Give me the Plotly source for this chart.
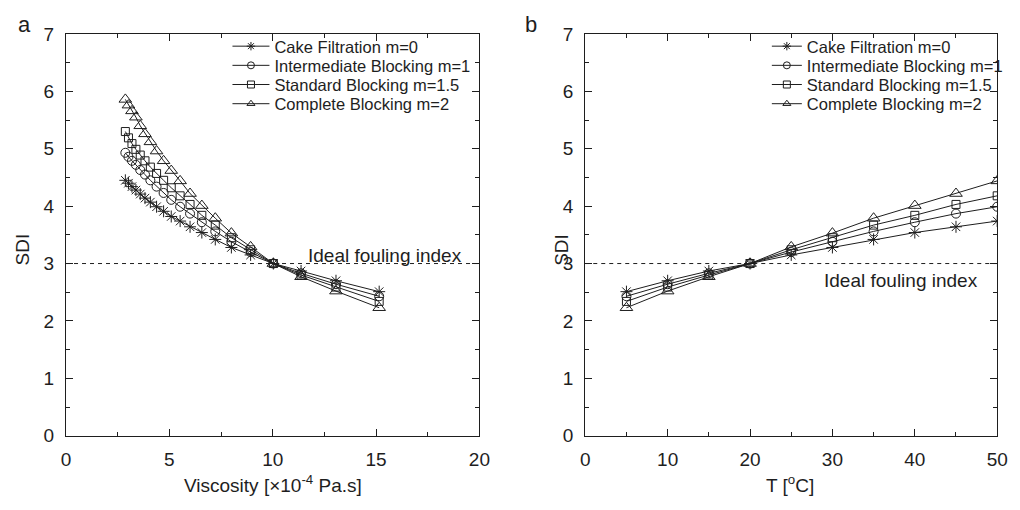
import plotly.graph_objects as go

# ---------------- data ----------------
# temperatures (deg C) and corresponding viscosities (x10^-4 Pa.s)
temps_all = [5, 10, 15, 20, 25, 30, 35, 40, 45, 50, 55, 60, 65, 70, 75, 80, 85, 90, 95, 100]
viscosity = [15.15, 13.06, 11.37, 10.03, 8.93, 8.00, 7.22, 6.57, 6.00, 5.52, 5.09, 4.72,
             4.38, 4.08, 3.82, 3.59, 3.38, 3.19, 3.02, 2.87]

sdi_cake = [2.51, 2.70, 2.87, 3.00, 3.15, 3.28, 3.42, 3.54, 3.64, 3.74, 3.82, 3.91,
            3.99, 4.07, 4.14, 4.21, 4.28, 4.34, 4.40, 4.45]
sdi_inter = [2.43, 2.64, 2.83, 3.00, 3.20, 3.38, 3.56, 3.72, 3.87, 3.99, 4.11, 4.23,
             4.34, 4.45, 4.55, 4.63, 4.72, 4.79, 4.86, 4.93]
sdi_std = [2.34, 2.59, 2.80, 3.00, 3.24, 3.45, 3.67, 3.84, 4.03, 4.18, 4.32, 4.45,
           4.57, 4.68, 4.79, 4.89, 4.99, 5.09, 5.19, 5.30]
sdi_comp = [2.23, 2.52, 2.77, 3.00, 3.29, 3.53, 3.79, 4.01, 4.22, 4.44, 4.62, 4.79,
            4.96, 5.12, 5.26, 5.40, 5.55, 5.66, 5.76, 5.86]

n_right = 10  # right panel shows T = 5..50
series_names = ["Cake Filtration m=0", "Intermediate Blocking m=1",
                "Standard Blocking m=1.5", "Complete Blocking m=2"]
series_values = [sdi_cake, sdi_inter, sdi_std, sdi_comp]
symbols = ["asterisk-open", "circle-open", "square-open", "triangle-up-open"]
sizes = [10, 9, 8, 11]

ideal_sdi = 3
x_range_left = [0, 20]
x_range_right = [0, 50]

# ---------------- figure ----------------
W, H = 1020, 510
FONT = "Liberation Sans, Arial, sans-serif"
INK = "#1e1e1e"

fig = go.Figure()

xl = [62 / W, 482 / W]
xr = [589.5 / W, 1008 / W]
yd = [66 / H, 485 / H]

for name, vals, sym, sz in zip(series_names, series_values, symbols, sizes):
    fig.add_trace(go.Scatter(
        x=viscosity, y=vals, mode="lines+markers", name=name, showlegend=False,
        line=dict(color=INK, width=1),
        marker=dict(symbol=sym, size=sz, color=INK, line=dict(color=INK, width=1)),
        xaxis="x", yaxis="y"))
    fig.add_trace(go.Scatter(
        x=temps_all[:n_right], y=vals[:n_right], mode="lines+markers", name=name,
        showlegend=False,
        line=dict(color=INK, width=1),
        marker=dict(symbol=sym, size=sz, color=INK, line=dict(color=INK, width=1)),
        xaxis="x2", yaxis="y2"))

# legend-only entries: one legend per entry so row spacing can match
legend_rows = [38, 58, 78, 98]
legend_layout = {}
for i, (name, sym) in enumerate(zip(series_names, symbols)):
    for panel, (xa, ya, lx, iw) in enumerate((("x", "y", 226, 37), ("x2", "y2", 774, 30))):
        idx = 1 + i + 4 * panel
        key = "legend" if idx == 1 else f"legend{idx}"
        fig.add_trace(go.Scatter(
            x=[None], y=[None], mode="lines+markers", name=name, legend=key,
            line=dict(color=INK, width=1),
            marker=dict(symbol=sym, size=7, color=INK, line=dict(color=INK, width=1)),
            xaxis=xa, yaxis=ya))
        legend_layout[key] = dict(
            x=lx / W, y=1 - legend_rows[i] / H, xanchor="left", yanchor="middle",
            bgcolor="rgba(0,0,0,0)", font=dict(family=FONT, size=16.5, color=INK),
            itemwidth=iw)

# ideal fouling index dashed lines
fig.add_trace(go.Scatter(x=x_range_left, y=[ideal_sdi, ideal_sdi], mode="lines",
                         showlegend=False, line=dict(color=INK, width=1, dash="4px,4px"),
                         xaxis="x", yaxis="y"))
fig.add_trace(go.Scatter(x=x_range_right, y=[ideal_sdi, ideal_sdi], mode="lines",
                         showlegend=False, line=dict(color=INK, width=1, dash="4px,4px"),
                         xaxis="x2", yaxis="y2"))

axis_common = dict(
    showline=True, linecolor=INK, linewidth=1.3, mirror="allticks",
    ticks="inside", ticklen=7, tickwidth=1, tickcolor=INK,
    showgrid=False, zeroline=False,
    tickfont=dict(family=FONT, size=19, color=INK),
)

fig.update_layout(
    width=W, height=H, margin=dict(l=0, r=0, t=0, b=0),
    paper_bgcolor="white", plot_bgcolor="white",
    font=dict(family=FONT, color=INK),
    xaxis=dict(domain=xl, range=x_range_left, dtick=5, anchor="y",
               minor=dict(dtick=2.5, ticks="inside", ticklen=4, tickcolor=INK),
               ticklabelstandoff=6, **axis_common),
    yaxis=dict(domain=yd, range=[0, 7], dtick=1, anchor="x",
               minor=dict(dtick=0.5, ticks="inside", ticklen=4, tickcolor=INK),
               ticklabelstandoff=7, **axis_common),
    xaxis2=dict(domain=xr, range=x_range_right, dtick=10, anchor="y2",
                minor=dict(dtick=5, ticks="inside", ticklen=4, tickcolor=INK),
                ticklabelstandoff=6, **axis_common),
    yaxis2=dict(domain=yd, range=[0, 7], dtick=1, anchor="x2",
                minor=dict(dtick=0.5, ticks="inside", ticklen=4, tickcolor=INK),
                ticklabelstandoff=7, **axis_common),
    **legend_layout,
)

ann = [
    dict(text="a", x=20 / W, y=1 - 15 / H, font=dict(size=22)),
    dict(text="b", x=534 / W, y=1 - 15 / H, font=dict(size=22)),
    dict(text="SDI", x=18 / W, y=1 - 250 / H, textangle=-90, font=dict(size=19)),
    dict(text="SDI", x=566 / W, y=1 - 250 / H, textangle=-90, font=dict(size=19)),
]
for a in ann:
    a.update(xref="paper", yref="paper", showarrow=False, xanchor="center", yanchor="middle")
    a["font"].update(family=FONT, color=INK)
    fig.add_annotation(**a)

for txt, xc in (("Viscosity [×10<sup>-4</sup> Pa.s]", 272), ("T [<sup>o</sup>C]", 798)):
    fig.add_annotation(text=txt, x=xc / W, y=1 / H, xref="paper", yref="paper",
                       showarrow=False, xanchor="center", yanchor="bottom",
                       font=dict(family=FONT, size=19, color=INK))

fig.add_annotation(text="Ideal fouling index", x=466 / W, y=1 - 256 / H, xref="paper",
                   yref="paper", showarrow=False, xanchor="right", yanchor="middle",
                   font=dict(family=FONT, size=19, color=INK))
fig.add_annotation(text="Ideal fouling index", x=991 / W, y=1 - 282 / H, xref="paper",
                   yref="paper", showarrow=False, xanchor="right", yanchor="middle",
                   font=dict(family=FONT, size=19, color=INK))

fig.write_html("out.html")
